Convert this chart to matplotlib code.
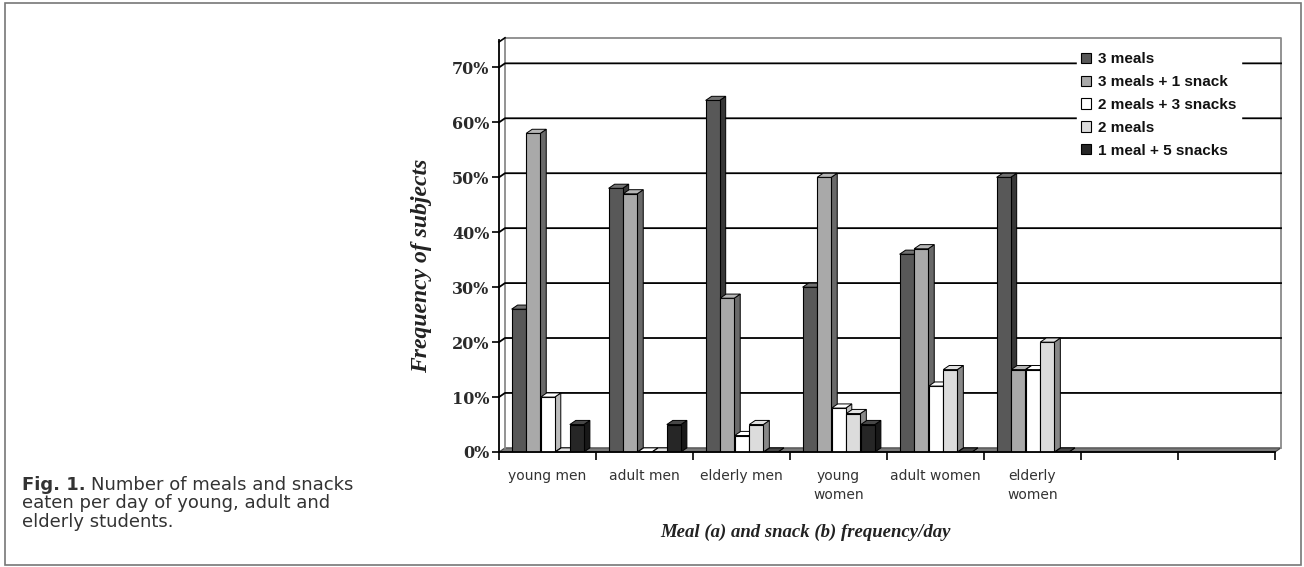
import matplotlib
matplotlib.use("Agg")
import matplotlib.pyplot as plt
from matplotlib.patches import Polygon, Rectangle, Patch
from matplotlib.colors import to_rgb

# ---------------- data ----------------
categories = ["young men", "adult men", "elderly men", "young\nwomen", "adult women", "elderly\nwomen"]
series_names = ["3 meals", "3 meals + 1 snack", "2 meals + 3 snacks", "2 meals", "1 meal + 5 snacks"]
three_meals = [26, 48, 64, 30, 36, 50]
three_meals_one_snack = [58, 47, 28, 50, 37, 15]
two_meals_three_snacks = [10, 0, 3, 8, 12, 15]
two_meals = [0, 0, 5, 7, 15, 20]
one_meal_five_snacks = [5, 5, 0, 5, 0, 0]
n_slots = 8
y_ticks = [0, 10, 20, 30, 40, 50, 60, 70]
y_tick_labels = ["0%", "10%", "20%", "30%", "40%", "50%", "60%", "70%"]

series = [three_meals, three_meals_one_snack, two_meals_three_snacks, two_meals, one_meal_five_snacks]
colors = ["#585858", "#a9a9a9", "#ffffff", "#dcdcdc", "#262626"]

W, H = 1304, 567
fig = plt.figure(figsize=(W / 100, H / 100), dpi=100)

def fx(px):
    return px / W

def fy(py):
    return 1 - py / H

# figure border
fig.patches.append(Rectangle((fx(5), fy(565)), fx(1301) - fx(5), fy(3) - fy(565),
                             transform=fig.transFigure, fill=False, edgecolor="#777777", lw=1.2))

ax_left, ax_right, ax_bottom, ax_top = 499, 1275, 452, 40
ax = fig.add_axes([fx(ax_left), fy(ax_bottom), fx(ax_right) - fx(ax_left), fy(ax_top) - fy(ax_bottom)])
YTOP = 75.0
ax.set_xlim(0, n_slots)
ax.set_ylim(0, YTOP)
ax.patch.set_alpha(0)

DX = 0.062   # depth offset (slot units)
DY = 0.75    # depth offset (% units)

# floor
ax.add_patch(Polygon([(0, 0), (n_slots, 0), (n_slots + DX, DY), (DX, DY)], closed=True,
                     facecolor="#7a7a7a", edgecolor="#444444", lw=0.8, zorder=1, clip_on=False))
# back wall edges
wall_top = YTOP + 0.4
ax.plot([DX, DX, n_slots + DX, n_slots + DX], [DY, wall_top, wall_top, DY],
        color="#8a8a8a", lw=1.3, zorder=1, clip_on=False)
ax.plot([0, DX], [YTOP - DY + 0.4, wall_top], color="black", lw=1.2, zorder=1, clip_on=False)

# gridlines on back wall
for v in y_ticks[1:]:
    ax.plot([0, DX, n_slots + DX], [v, v + DY, v + DY], color="black", lw=1.3, zorder=1.5, clip_on=False)

def shade(c, f):
    r, g, b = to_rgb(c)
    return (r * f, g * f, b * f)

def tint(c, f):
    r, g, b = to_rgb(c)
    return (r + (1 - r) * f, g + (1 - g) * f, b + (1 - b) * f)

start = 0.13
step = 0.15
bw = 0.145
for i in range(len(categories)):
    for j, vals in enumerate(series):
        h = vals[i]
        x = i + start + j * step
        z = 3 + i * 0.01 + j * 0.1
        c = colors[j]
        side = shade(c, 0.62) if c != "#ffffff" else "#bdbdbd"
        ax.add_patch(Polygon([(x + bw, 0), (x + bw + DX, DY), (x + bw + DX, h + DY), (x + bw, h)],
                             closed=True, facecolor=side, edgecolor="black", lw=0.7, zorder=z))
        ax.bar([x], [h], width=bw, align="edge", color=c, edgecolor="black", lw=0.8, zorder=z + 0.01)
        ax.add_patch(Polygon([(x, h), (x + DX, h + DY), (x + bw + DX, h + DY), (x + bw, h)],
                             closed=True, facecolor=tint(c, 0.15), edgecolor="black", lw=0.7, zorder=z + 0.02))

# axes / ticks
for s in ["top", "right"]:
    ax.spines[s].set_visible(False)
for s in ["left", "bottom"]:
    ax.spines[s].set_color("black")
    ax.spines[s].set_linewidth(1.3)
    ax.spines[s].set_zorder(10)

ax.set_yticks(y_ticks)
ax.set_yticklabels(y_tick_labels, fontfamily="DejaVu Serif", fontweight="bold", fontsize=11.5, color="#2a2a2a")
ax.tick_params(axis="y", direction="out", length=5, width=1.2, pad=2)

ax.set_xticks(range(n_slots + 1))
ax.set_xticklabels([])
ax.tick_params(axis="x", which="major", direction="out", length=6, width=1.2)
ax.set_xticks([i + 0.5 for i in range(len(categories))], minor=True)
ax.set_xticklabels(categories, minor=True, fontfamily="DejaVu Sans", fontsize=10, color="#333333",
                   linespacing=1.45)
ax.tick_params(axis="x", which="minor", length=0, pad=12)

# axis titles
fig.text(fx(806), fy(532), "Meal (a) and snack (b) frequency/day", ha="center", va="center",
         fontfamily="Liberation Serif", fontstyle="italic", fontweight="bold", fontsize=13.5, color="#222222")
fig.text(fx(422), fy(266), "Frequency of subjects", ha="center", va="center", rotation=90,
         fontfamily="Liberation Serif", fontstyle="italic", fontweight="bold", fontsize=17, color="#222222")

# legend
handles = [Patch(facecolor=c, edgecolor="black", lw=0.8) for c in colors]
leg = fig.legend(handles, series_names, loc="upper left", bbox_to_anchor=(fx(1069), fy(40)),
                 bbox_transform=fig.transFigure, frameon=True, fancybox=False, framealpha=1,
                 facecolor="white", edgecolor="white", borderpad=0.3,
                 handlelength=0.65, handleheight=0.65, handletextpad=0.45, labelspacing=0.58,
                 prop={"family": "Liberation Sans", "weight": "bold", "size": 11})
for t in leg.get_texts():
    t.set_color("#111111")
leg.set_zorder(20)

# caption
cap_font = dict(fontfamily="DejaVu Sans", fontsize=13, color="#333333", va="center", ha="left")
t_fig = fig.text(fx(22), fy(485), "Fig. 1.", fontweight="bold", **cap_font)
fig.canvas.draw()
bb = t_fig.get_window_extent()
fig.text(fx(bb.x1 + 5), fy(485), "Number of meals and snacks", **cap_font)
fig.text(fx(22), fy(503.5), "eaten per day of young, adult and", **cap_font)
fig.text(fx(22), fy(522), "elderly students.", **cap_font)

fig.savefig("out.png", dpi=100)
